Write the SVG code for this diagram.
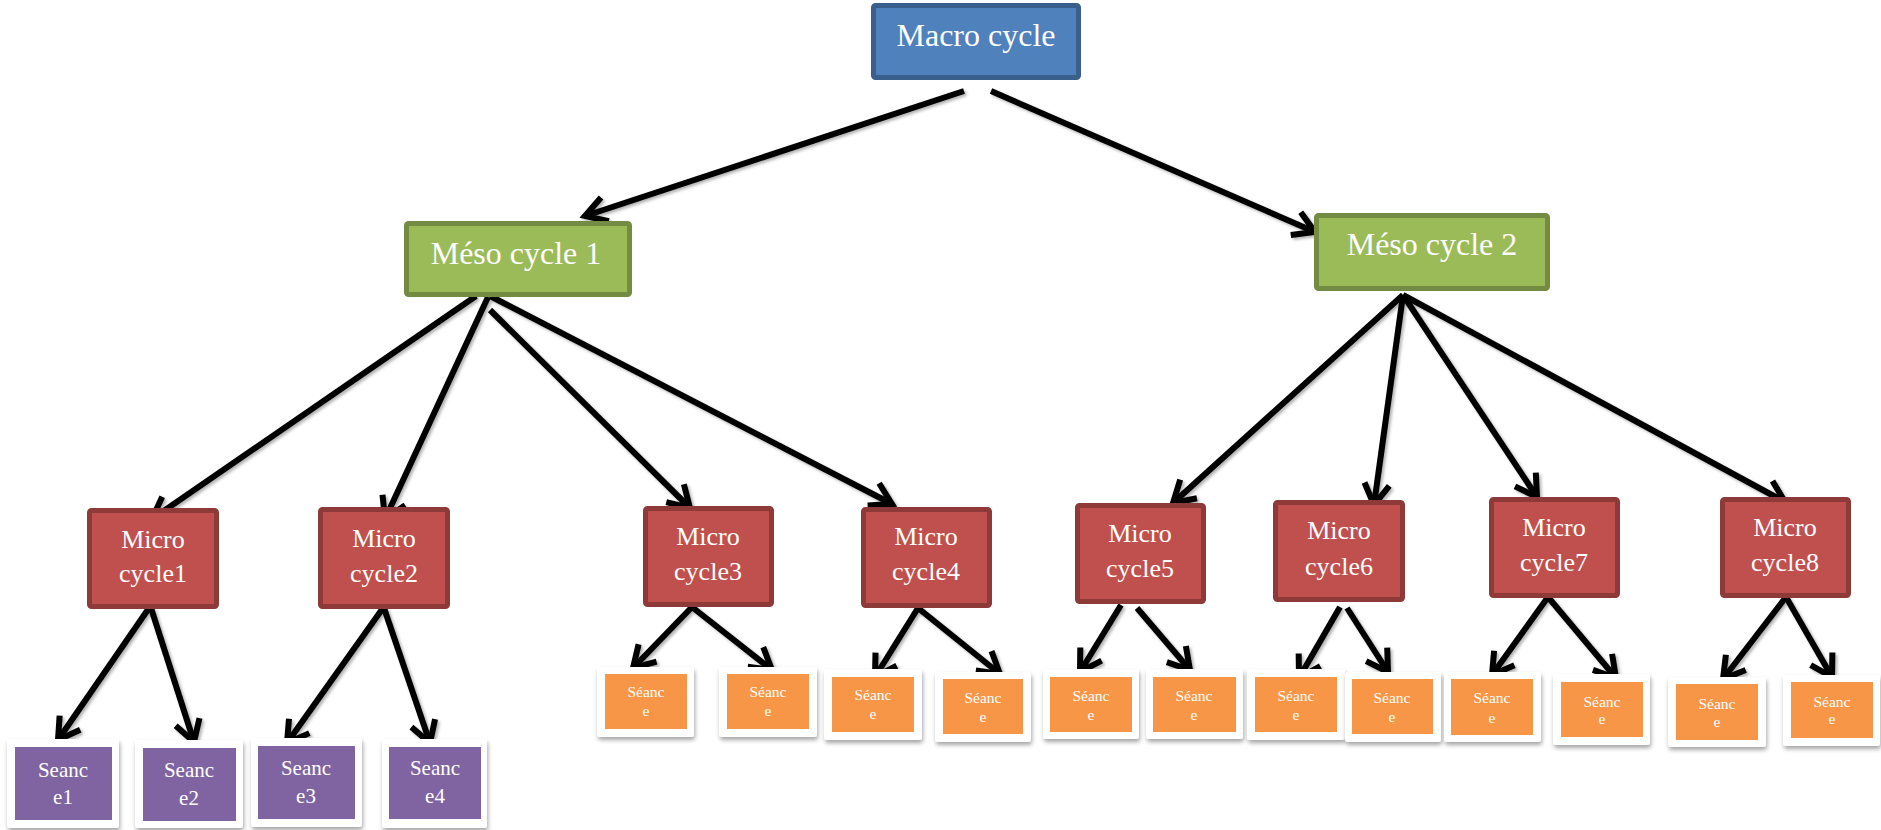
<svg xmlns="http://www.w3.org/2000/svg" width="1881" height="830" viewBox="0 0 1881 830">
<style>
text{font-family:"Liberation Serif","Times New Roman",serif;fill:#fff;text-anchor:middle}
.macro{fill:#4F81BD;stroke:#3A5F8C;stroke-width:5}
.meso{fill:#9BBB59;stroke:#748B42;stroke-width:5}
.micro{fill:#C0504D;stroke:#8E3A38;stroke-width:5}
.frame{fill:#fff;filter:url(#sh)}
.pur{fill:#8064A2}
.ora{fill:#F79646}
.big{font-size:32px}
.mid{font-size:26px}
.sp{font-size:21px}
.so{font-size:15.5px}
#connectors line{stroke:#000;stroke-width:6;marker-end:url(#ah)}
</style>
<defs>
<marker id="ah" markerUnits="userSpaceOnUse" viewBox="-30 -20 40 40" markerWidth="40" markerHeight="40" refX="0" refY="0" orient="auto" overflow="visible">
<path d="M-21,-12.5 L0,0 L-21,12.5" fill="none" stroke="#000" stroke-width="6"/>
</marker>
<filter id="sh" x="-20%" y="-20%" width="140%" height="150%">
<feDropShadow dx="1" dy="3" stdDeviation="2" flood-color="#000" flood-opacity="0.35"/>
</filter>
<filter id="lsh" x="-5%" y="-5%" width="110%" height="110%">
<feDropShadow dx="2" dy="2" stdDeviation="1.5" flood-color="#000" flood-opacity="0.3"/>
</filter>
</defs>
<rect width="1881" height="830" fill="#fff"/>
<g id="connectors" filter="url(#lsh)">
<line x1="964" y1="91" x2="585" y2="216"/>
<line x1="991" y1="91" x2="1315" y2="232"/>
<line x1="476" y1="296" x2="152" y2="519"/>
<line x1="488" y1="297" x2="385" y2="519"/>
<line x1="490" y1="310" x2="690" y2="508"/>
<line x1="490" y1="296" x2="892" y2="504"/>
<line x1="1403" y1="295" x2="1173" y2="503"/>
<line x1="1403" y1="295" x2="1374" y2="505"/>
<line x1="1403" y1="295" x2="1537" y2="497"/>
<line x1="1403" y1="295" x2="1785" y2="502"/>
<line x1="149" y1="608" x2="58" y2="740"/>
<line x1="151" y1="608" x2="194" y2="742"/>
<line x1="383" y1="608" x2="287" y2="743"/>
<line x1="384" y1="608" x2="430" y2="743"/>
<line x1="692" y1="607" x2="633" y2="668"/>
<line x1="692" y1="607" x2="772" y2="670"/>
<line x1="918" y1="608" x2="875" y2="677"/>
<line x1="918" y1="608" x2="1000" y2="674"/>
<line x1="1121" y1="605" x2="1080" y2="672"/>
<line x1="1137" y1="608" x2="1190" y2="670"/>
<line x1="1340" y1="607" x2="1299" y2="678"/>
<line x1="1347" y1="608" x2="1388" y2="672"/>
<line x1="1548" y1="597" x2="1492" y2="675"/>
<line x1="1548" y1="597" x2="1616" y2="678"/>
<line x1="1786" y1="597" x2="1723" y2="679"/>
<line x1="1786" y1="597" x2="1832" y2="677"/>
</g>
<g id="macro"><rect class="macro" x="873.5" y="5.5" width="205" height="72" rx="2"/><text class="big" x="976" y="46">Macro cycle</text></g>
<g id="meso1"><rect class="meso" x="406.5" y="223.5" width="223" height="71" rx="2"/><text class="big" x="516" y="264">Méso cycle 1</text></g>
<g id="meso2"><rect class="meso" x="1316.5" y="215.5" width="231" height="73" rx="2"/><text class="big" x="1432" y="255">Méso cycle 2</text></g>
<g id="micro1"><rect class="micro" x="89.5" y="510.5" width="127" height="96" rx="2"/><text class="mid" x="153" y="548">Micro</text><text class="mid" x="153" y="582">cycle1</text></g>
<g id="micro2"><rect class="micro" x="320.5" y="509.5" width="127" height="97" rx="2"/><text class="mid" x="384" y="547">Micro</text><text class="mid" x="384" y="582">cycle2</text></g>
<g id="micro3"><rect class="micro" x="645.5" y="508.5" width="126" height="96" rx="2"/><text class="mid" x="708" y="545">Micro</text><text class="mid" x="708" y="580">cycle3</text></g>
<g id="micro4"><rect class="micro" x="863.5" y="509.5" width="126" height="96" rx="2"/><text class="mid" x="926" y="545">Micro</text><text class="mid" x="926" y="580">cycle4</text></g>
<g id="micro5"><rect class="micro" x="1077.5" y="505.5" width="126" height="96" rx="2"/><text class="mid" x="1140" y="542">Micro</text><text class="mid" x="1140" y="577">cycle5</text></g>
<g id="micro6"><rect class="micro" x="1275.5" y="502.5" width="127" height="97" rx="2"/><text class="mid" x="1339" y="539">Micro</text><text class="mid" x="1339" y="575">cycle6</text></g>
<g id="micro7"><rect class="micro" x="1491.5" y="499.5" width="126" height="96" rx="2"/><text class="mid" x="1554" y="536">Micro</text><text class="mid" x="1554" y="571">cycle7</text></g>
<g id="micro8"><rect class="micro" x="1722.5" y="499.5" width="126" height="96" rx="2"/><text class="mid" x="1785" y="536">Micro</text><text class="mid" x="1785" y="571">cycle8</text></g>
<g id="seance1"><rect class="frame" x="7" y="739" width="112" height="89" rx="3"/><rect class="pur" x="15" y="747" width="97" height="73"/><text class="sp" x="63" y="777">Seanc</text><text class="sp" x="63" y="804">e1</text></g>
<g id="seance2"><rect class="frame" x="135" y="740" width="108" height="88" rx="3"/><rect class="pur" x="143" y="748" width="93" height="73"/><text class="sp" x="189" y="777">Seanc</text><text class="sp" x="189" y="805">e2</text></g>
<g id="seance3"><rect class="frame" x="251" y="738" width="111" height="89" rx="3"/><rect class="pur" x="258" y="746" width="97" height="73"/><text class="sp" x="306" y="775">Seanc</text><text class="sp" x="306" y="803">e3</text></g>
<g id="seance4"><rect class="frame" x="382" y="739" width="105" height="89" rx="3"/><rect class="pur" x="389" y="747" width="92" height="72"/><text class="sp" x="435" y="775">Seanc</text><text class="sp" x="435" y="803">e4</text></g>
<g id="seanceA"><rect class="frame" x="597" y="667" width="97" height="70" rx="3"/><rect class="ora" x="605" y="674" width="82" height="55"/><text class="so" x="646" y="697">Séanc</text><text class="so" x="646" y="716">e</text></g>
<g id="seanceB"><rect class="frame" x="719" y="667" width="98" height="70" rx="3"/><rect class="ora" x="727" y="674" width="82" height="55"/><text class="so" x="768" y="697">Séanc</text><text class="so" x="768" y="716">e</text></g>
<g id="seanceC"><rect class="frame" x="824" y="669" width="98" height="71" rx="3"/><rect class="ora" x="832" y="677" width="82" height="55"/><text class="so" x="873" y="700">Séanc</text><text class="so" x="873" y="719">e</text></g>
<g id="seanceD"><rect class="frame" x="935" y="672" width="96" height="70" rx="3"/><rect class="ora" x="943" y="679" width="80" height="55"/><text class="so" x="983" y="703">Séanc</text><text class="so" x="983" y="722">e</text></g>
<g id="seanceE"><rect class="frame" x="1043" y="669" width="96" height="70" rx="3"/><rect class="ora" x="1050" y="677" width="82" height="55"/><text class="so" x="1091" y="701">Séanc</text><text class="so" x="1091" y="720">e</text></g>
<g id="seanceF"><rect class="frame" x="1146" y="669" width="97" height="70" rx="3"/><rect class="ora" x="1153" y="677" width="83" height="55"/><text class="so" x="1194" y="701">Séanc</text><text class="so" x="1194" y="720">e</text></g>
<g id="seanceG"><rect class="frame" x="1247" y="669" width="98" height="71" rx="3"/><rect class="ora" x="1255" y="677" width="82" height="55"/><text class="so" x="1296" y="701">Séanc</text><text class="so" x="1296" y="720">e</text></g>
<g id="seanceH"><rect class="frame" x="1345" y="672" width="96" height="70" rx="3"/><rect class="ora" x="1352" y="679" width="81" height="55"/><text class="so" x="1392" y="703">Séanc</text><text class="so" x="1392" y="722">e</text></g>
<g id="seanceI"><rect class="frame" x="1444" y="672" width="97" height="70" rx="3"/><rect class="ora" x="1451" y="679" width="82" height="56"/><text class="so" x="1492" y="703">Séanc</text><text class="so" x="1492" y="723">e</text></g>
<g id="seanceJ"><rect class="frame" x="1553" y="674" width="97" height="71" rx="3"/><rect class="ora" x="1561" y="682" width="82" height="55"/><text class="so" x="1602" y="707">Séanc</text><text class="so" x="1602" y="724">e</text></g>
<g id="seanceK"><rect class="frame" x="1668" y="677" width="98" height="70" rx="3"/><rect class="ora" x="1676" y="684" width="82" height="56"/><text class="so" x="1717" y="709">Séanc</text><text class="so" x="1717" y="727">e</text></g>
<g id="seanceL"><rect class="frame" x="1783" y="675" width="97" height="71" rx="3"/><rect class="ora" x="1791" y="682" width="82" height="56"/><text class="so" x="1832" y="707">Séanc</text><text class="so" x="1832" y="724">e</text></g>
</svg>
